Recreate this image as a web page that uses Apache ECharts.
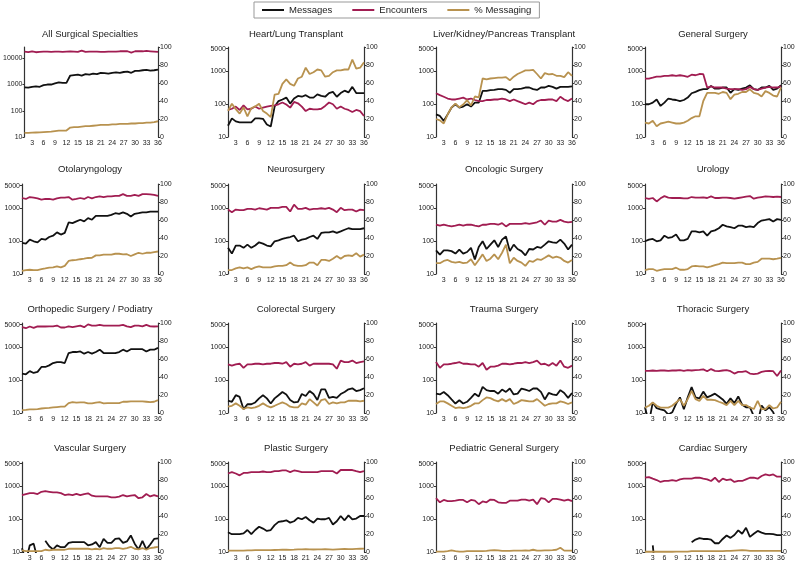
<!DOCTYPE html>
<html><head><meta charset="utf-8">
<script src="https://cdn.jsdelivr.net/npm/echarts@6/dist/echarts.min.js"></script>
<style>html,body{margin:0;padding:0;background:#fff}#c{width:800px;height:567px}</style>
</head><body><div id="c"></div>
<script>
const months = ['1','2','3','4','5','6','7','8','9','10','11','12','13','14','15','16','17','18','19','20','21','22','23','24','25','26','27','28','29','30','31','32','33','34','35','36'];
const seriesNames = ['Messages', 'Encounters', '% Messaging'];
const titles = ['All Surgical Specialties','Heart/Lung Transplant','Liver/Kidney/Pancreas Transplant','General Surgery',
  'Otolaryngology','Neurosurgery','Oncologic Surgery','Urology',
  'Orthopedic Surgery / Podiatry','Colorectal Surgery','Trauma Surgery','Thoracic Surgery',
  'Vascular Surgery','Plastic Surgery','Pediatric General Surgery','Cardiac Surgery'];
const leftTicksAll = [10, 100, 1000, 10000];
const leftTicks = [10, 100, 1000, 5000];
const rightTicks = [0, 20, 40, 60, 80, 100];

// All Surgical Specialties
const allMsg = [780,760,820,850,820,950,1000,1000,1100,1200,1150,1150,2200,2300,2400,2200,2500,2400,2600,2500,2800,2700,2600,2800,2900,2800,3000,3100,2800,3300,3300,3500,3600,3400,3500,3700];
const allEnc = [18000,17000,18500,17000,17500,18000,18000,17500,18000,18000,17500,18000,18500,18000,17500,19500,17500,18000,18000,18000,17500,17500,18000,18000,18000,18500,18500,18500,16500,18500,18500,18500,19000,18500,18000,17500];
const allPct = [4.5,4.6,4.8,5,5.2,5.5,5.8,6,6.5,7,7,7.2,10.5,11,11,11.5,12,12,12.5,13,13.5,13.5,13.5,14,14,14.5,14.5,14.5,15,15,15.5,15.5,16,16,16.5,17.5];
// Heart/Lung Transplant
const hlMsg = [22,37,30,28,28,28,28,37,37,36,24,21,85,125,140,160,105,150,180,170,190,160,160,200,180,170,220,240,170,220,260,230,340,220,220,220];
const hlEnc = [67,73,85,67,93,70,73,85,73,79,85,89,93,100,113,98,79,118,107,85,62,73,70,70,73,89,113,100,73,85,73,67,58,67,62,44];
const hlPct = [29,37,31,26,33,23,32,34,37,29,26,22,47,48,59,64,59,57,65,67,77,70,72,75,74,67,68,72,74,74,75,75,86,76,77,83];
// Liver/Kidney/Pancreas Transplant
const lkMsg = [49,44,31,49,79,100,79,85,100,85,112,112,256,256,270,275,290,290,275,225,290,290,300,325,325,290,275,325,325,365,340,300,340,340,340,350];
const lkEnc = [217,190,170,150,140,140,150,160,140,150,135,125,125,135,135,140,140,150,140,125,140,125,112,100,112,100,125,135,135,140,140,125,170,140,125,150];
const lkPct = [20,18.5,15,25,33,37,33,36,41,35,45,44,65,64,65,65.5,66,66,66.5,63,67,70,72,74,74,74.5,70,65,71,69.5,70,68,68,66.5,72,68];
// General Surgery
const gsMsg = [100,100,112,140,89,112,150,140,135,125,135,160,217,240,270,290,290,365,300,300,325,325,225,290,275,300,325,380,290,275,325,325,365,275,300,380];
const gsEnc = [610,610,650,700,700,740,740,770,740,770,740,690,800,770,840,830,325,350,325,325,325,300,290,290,290,275,290,340,290,275,300,325,340,325,325,350];
const gsPct = [16,15,18,12,15,16,17,16,15,15,16,18,21,23,23,40,49,49,49,48,50,49,42,47,48,50,50,53,49,48,45,51,49,46,45,55];
// Otolaryngology
const otoMsg = [89,85,112,100,93,118,112,135,148,187,160,180,376,360,405,455,405,510,455,600,600,600,600,640,720,690,760,690,570,690,720,760,760,800,800,800];
const otoEnc = [2100,1960,2250,2150,2050,1870,1960,1960,1870,2050,2150,2150,2250,1870,1960,2100,1960,2250,2050,2250,2350,2250,2350,2350,2450,2450,2750,2450,2450,2600,2450,2750,2750,2700,2600,2450];
const otoPct = [3.6,4.4,4.7,4.4,4.4,5.5,6.2,7,7.3,8.4,7.3,9,14.5,15.3,15.6,16.4,17,17.8,18,20.7,20.7,21.5,21.5,21.5,22.5,22.5,21.8,22,20,21.8,23.6,22.5,23.6,23.6,24.4,25];
// Neurosurgery
const neuMsg = [63,42,74,74,63,79,63,74,93,85,74,70,100,107,118,126,135,148,100,112,118,135,148,118,180,187,187,200,180,200,225,250,235,235,235,250];
const neuEnc = [930,775,930,890,890,980,980,930,1020,980,930,1050,1050,1050,1120,1120,810,1320,980,980,1050,930,980,980,1020,980,1050,930,775,1050,890,930,930,810,930,890];
const neuPct = [4.4,4.4,6.2,7.3,6.2,7.3,5.5,7.3,8.4,7.3,7.3,7.3,8.4,9,9,9.8,12.7,9.8,9,9,9.8,12.7,12.7,9.8,15.6,15.6,14.5,17,20,17,20,20.7,20,23,19.3,21.5];
// Oncologic Surgery
const oncMsg = [53,39,53,53,50,42,56,42,47,63,28,67,100,58,79,107,67,112,140,50,79,58,50,37,58,56,67,63,79,100,93,89,112,85,56,79];
const oncEnc = [320,300,320,300,285,300,320,300,320,320,300,285,320,320,340,340,320,360,285,340,340,340,340,360,340,360,380,430,320,430,400,400,450,400,380,390];
const oncPct = [12,12,14.5,15.6,13.5,12.7,13.5,12,12.7,16.4,9.8,15.6,21.8,14.5,17,21.8,16.4,23.6,32.7,12,18,14.5,12.7,9,14.5,13.5,16.4,15.6,18,20.7,18,19.3,18,14.5,12.7,15.6];
// Urology
const uroMsg = [100,112,118,100,107,148,126,135,160,107,107,118,200,200,187,200,148,200,215,250,320,285,270,250,300,300,270,285,270,360,430,450,475,400,475,450];
const uroEnc = [2100,1960,2100,1650,2050,2400,2150,2100,2100,2100,2050,2050,2250,2150,2150,2200,2100,2350,2100,2100,2150,2150,2100,2000,2100,2200,2300,2400,2000,2150,2250,2350,2300,2250,2300,2250];
const uroPct = [4.4,5.5,5.5,3.6,4.7,5.5,5.5,5.5,7,4.7,4.7,5.5,8.4,9,8.4,8.4,7.3,8.4,9.8,11,12.7,12,12,12,12.7,12.7,11,11,12.7,13.5,17,17,17,16.4,17,18];
// Orthopedic Surgery / Podiatry
const orthoMsg = [160,152,190,167,180,255,255,285,337,360,360,337,680,730,730,760,650,730,650,730,860,680,680,680,680,730,860,760,890,890,890,890,760,860,860,980];
const orthoEnc = [4200,3900,4400,4000,4450,4400,4400,4450,4450,4700,4100,4100,4450,4200,4450,4700,4200,5100,4700,4700,4950,4700,4700,4700,4700,4700,4950,4450,4200,4700,4700,4450,4950,4450,4400,4450];
const orthoPct = [3.3,3.5,4,4,4.4,5,5.5,5.8,6.2,6.6,7,7,11,12,11.5,11.8,11.8,10.7,10.7,11.5,12,10.7,11,11,11,11,12.5,12.5,12.9,12.9,12.9,12.9,12.5,12,12.5,14.3];
// Colorectal Surgery
const crMsg = [23.7,22,35,31,13,18.5,18.5,21,28,35,28,19.5,28,35,44,37,25,21,22,38,33,47,38,25,53,53,29,31,29,38,44,53,57,47,50,57];
const crEnc = [307,280,307,320,240,307,307,320,320,307,320,320,337,337,320,360,260,320,307,320,360,280,320,320,320,320,320,307,225,400,360,360,400,337,360,380];
const crPct = [7,8,10.7,8,4.4,6.2,5.5,6.2,8,10.7,8,6.2,8,10,11.8,10,7,6.2,6.2,10.7,9.2,15.4,11.8,8,14.3,15.4,10,11.8,10.7,11.8,11.8,13.6,13.6,13.6,12.9,13.6];
// Trauma Surgery
const trMsg = [39,37,44,35,26,19.5,24.5,19.5,22,29,39,32,63,50,47,47,39,52,44,56,37,39,56,52,47,56,56,44,26,41,37,35,50,41,29,41];
const trEnc = [360,240,307,307,320,337,360,320,320,307,307,260,337,210,260,260,280,320,320,307,320,337,337,360,337,360,400,307,320,280,337,280,400,260,240,280];
const trPct = [10,12.9,12.9,10.7,8,5.5,6.2,5.5,6.2,8,10.7,10.7,14.3,17.3,16.5,14.3,12.9,15.4,12.9,15.4,10,11.8,14.3,13.6,12.9,12.9,15.4,11.8,8,10,10.7,10.7,12.9,11.8,10,11.8];
// Thoracic Surgery
const thMsg = [15,5,21,14,13,12,9,10.5,19,30,13,30,62,30,28,45,30,34,39,32,26,19,28,20,32,18,15,15,8,5,17,12,15,10.5,5,8];
const thEnc = [194,194,199,194,199,199,194,199,199,204,194,204,199,204,209,215,189,220,194,189,199,204,189,160,180,180,189,160,155,160,180,189,194,189,135,200];
const thPct = [6,8,11.7,8,6,6,6,8,11.7,15.4,8,15.4,24.5,15.4,13.5,19,14.7,14.7,14.3,12.5,11,8.8,13.5,8.8,13.5,8.8,8.8,6.2,4.4,13.5,4.4,4.4,8.8,5,6.2,12.5];
// Vascular Surgery
const vaMsg = [13,5,16,18,6,null,22,15,12,16,14,14,19,20,20,20,20,16,17,20,14,25,19,19,25,26,19,21,32,18,12,22,12,17,25,26];
const vaEnc = [550,590,630,630,590,690,720,690,660,660,630,550,575,550,600,550,590,620,525,500,500,500,500,470,470,490,550,500,525,550,440,470,590,500,550,500];
const vaPct = [1.8,1,1,1,1,1,2.5,1.8,2.5,2.5,2.5,2.5,3.6,3.6,3.6,3.6,3.6,3.6,3,3.6,3,4.4,3.6,3.6,4.4,4.4,3.6,4.4,5.8,3.6,3,4.4,2.5,4.4,5,5.8];
// Plastic Surgery
const plMsg = [40,35,35,35,37,47,35,47,59,52,44,47,66,83,87,93,79,87,110,100,117,93,79,105,100,100,110,69,87,126,93,132,100,105,126,126];
const plEnc = [2500,2750,2500,2200,2600,2600,2750,2750,2750,2880,2750,2750,2950,2950,3100,3100,2750,3100,2950,2750,2750,2750,2750,2750,2950,2950,2950,2950,2500,3200,3200,3200,3200,2950,2750,2950];
const plPct = [1.5,1.5,1.5,1.5,1.5,1.8,1.8,2,2,2,2,2,2.2,2.4,2.5,2.6,2.4,2.6,3,3,3.2,3,2.8,3,3,3.2,3,2.6,3,3.2,3.4,3.2,3.2,3.4,3.6,3.8];
// Pediatric General Surgery
const pdMsg = [null,null,null,null,null,null,null,null,null,null,null,null,null,null,null,null,null,null,null,null,null,null,null,null,null,null,null,null,null,null,null,null,null,null,null,null];
const pdEnc = [440,330,390,360,360,370,390,390,330,390,370,290,350,330,400,390,330,315,315,370,370,370,400,400,370,400,290,440,420,330,420,420,400,370,400,360];
const pdPct = [0.5,0.5,0.5,1,1.8,1,0.5,0.5,1,1,1,1,1,1.2,1.8,2,1.8,1.2,1.2,1.2,1.5,1.5,1.5,1.8,1.5,2.5,1.5,1.5,1.8,1.8,2,2.5,4.8,1.5,1.5,1.5];
// Cardiac Surgery
const cdMsg = [null,null,16,1,null,null,null,null,null,null,null,null,20,24,26.5,25,25,24,18.5,18.5,25,32,27,33,46,36,55,29,36,44,39,36,36,35,33,33];
const cdEnc = [1860,1950,1740,1580,1380,1480,1480,1580,1480,1660,1740,1740,1740,1860,1860,1740,1660,1480,1860,1380,1740,1580,1660,1380,1480,1480,1660,1860,1860,1740,2100,2350,2200,2350,2000,2000];
const cdPct = [0.3,0.3,0.3,0.3,0.3,0.3,0.3,0.3,0.5,0.5,0.5,0.5,1,1,1,1,1,1,1,1,1,1.2,1.2,1.5,1.8,2,1.8,1.2,1.2,1.2,1.2,1.2,1.2,1.2,1.2,1.2];

const panels = [
  [allMsg, allEnc, allPct], [hlMsg, hlEnc, hlPct], [lkMsg, lkEnc, lkPct], [gsMsg, gsEnc, gsPct],
  [otoMsg, otoEnc, otoPct], [neuMsg, neuEnc, neuPct], [oncMsg, oncEnc, oncPct], [uroMsg, uroEnc, uroPct],
  [orthoMsg, orthoEnc, orthoPct], [crMsg, crEnc, crPct], [trMsg, trEnc, trPct], [thMsg, thEnc, thPct],
  [vaMsg, vaEnc, vaPct], [plMsg, plEnc, plPct], [pdMsg, pdEnc, pdPct], [cdMsg, cdEnc, cdPct]
];

const FONT = '"Liberation Sans Narrow", "Liberation Sans", Arial, sans-serif';
const colors = ['#111111', '#a11d52', '#b8924f'];
const colLeft = [22, 228, 436, 645];
const plotW = 136;
const rowTop = [47, 184, 323, 462];
const plotH = 90;
const titleY = [35, 170, 310, 449];
const axisCol = '#333';
const lg = v => (v == null ? null : Math.log10(v));

const option = {
  animation: false,
  backgroundColor: '#fff',
  textStyle: { fontFamily: FONT },
  legend: {
    left: 254, top: 2, width: 300,
    data: seriesNames,
    icon: 'rect', itemWidth: 22, itemHeight: 2, itemGap: 20,
    borderColor: '#999', borderWidth: 1, padding: [3, 8],
    textStyle: { fontFamily: FONT, fontSize: 9.5, color: '#222' }
  },
  title: [], grid: [], xAxis: [], yAxis: [], series: []
};

panels.forEach((p, i) => {
  const r = Math.floor(i / 4), c = i % 4;
  const isAll = i === 0;
  const lt = isAll ? leftTicksAll : leftTicks;
  option.title.push({
    text: titles[i], left: colLeft[c] + plotW / 2, top: titleY[r] - 6, textAlign: 'center', padding: 0,
    textStyle: { fontFamily: FONT, fontSize: 9.5, fontWeight: 'normal', color: '#222' }
  });
  option.grid.push({ left: colLeft[c], top: rowTop[r], width: plotW, height: plotH });
  option.xAxis.push({
    type: 'category', gridIndex: i, data: months, boundaryGap: false,
    axisLine: { show: false }, axisTick: { show: false }, splitLine: { show: false },
    axisLabel: { interval: idx => (idx + 1) % 3 === 0, fontSize: 7, margin: 3, color: '#222', fontFamily: FONT }
  });
  option.yAxis.push({
    type: 'value', gridIndex: i, position: 'left', min: 1, max: isAll ? 4.43 : 3.75,
    splitLine: { show: false },
    axisLine: { show: true, lineStyle: { color: axisCol, width: 1.2 } },
    axisTick: { show: true, length: 2, lineStyle: { color: axisCol }, customValues: lt.map(lg) },
    axisLabel: { customValues: lt.map(lg), formatter: v => String(Math.round(Math.pow(10, v))), fontSize: 7, margin: 2, color: '#222', fontFamily: FONT }
  });
  option.yAxis.push({
    type: 'value', gridIndex: i, position: 'right', min: 0, max: 100, interval: 20,
    splitLine: { show: false },
    axisLine: { show: true, lineStyle: { color: axisCol, width: 1.2 } },
    axisTick: { show: true, length: 2, lineStyle: { color: axisCol } },
    axisLabel: { fontSize: 7, margin: 2, color: '#222', fontFamily: FONT }
  });
  p.forEach((arr, k) => {
    option.series.push({
      name: seriesNames[k], type: 'line', xAxisIndex: i, yAxisIndex: k === 2 ? 2 * i + 1 : 2 * i,
      data: k === 2 ? arr : arr.map(lg),
      showSymbol: false, symbol: 'none', connectNulls: false, clip: true,
      lineStyle: { color: colors[k], width: 1.8 }, itemStyle: { color: colors[k] }
    });
  });
});

const chart = echarts.init(document.getElementById('c'), null, { renderer: 'canvas' });
chart.setOption(option);
</script>
</body></html>
